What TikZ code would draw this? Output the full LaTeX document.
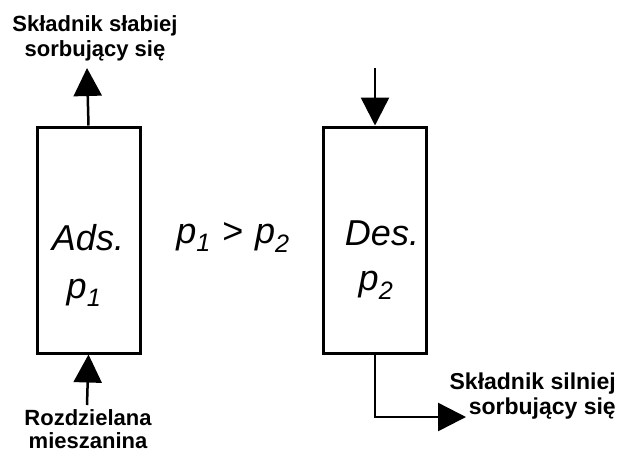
\documentclass[tikz,border=0pt]{standalone}
\usepackage{fontspec}
\setmainfont{Liberation Sans}
\usepackage{tikz}
\usetikzlibrary{arrows.meta}
\usetikzlibrary{positioning}

\newcommand{\cisn}[1]{\textit{p}\textsubscript{\textit{#1}}}

\begin{document}
\begin{tikzpicture}[x=1pt, y=-1pt,
  kolumna/.style={draw, line width=3pt, minimum width=103pt, minimum height=226pt, inner sep=0pt},
  strzalka/.style={line width=2.5pt, -{Triangle[length=28pt, width=28pt]}},
  opis/.style={font=\fontsize{22}{25}\selectfont\bfseries, align=center, inner sep=0pt},
  duzy/.style={font=\fontsize{36}{40}\selectfont\itshape, inner sep=0pt}]
  \useasboundingbox (0,0) rectangle (617,453);

  \node[kolumna] (ads) at (88.5,240) {};
  \node[kolumna] (des) at (375,240)  {};

  \node[duzy, anchor=base] (adsnazwa) at (88,250)  {Ads.};
  \node[duzy, anchor=base] (adsp)     at (84,298)  {\cisn{1}};
  \node[duzy, anchor=base] (desnazwa) at (382,245) {Des.};
  \node[duzy, anchor=base] (desp)     at (376,290) {\cisn{2}};
  \node[duzy, anchor=base] (nierown)  at (233,243) {\cisn{1}\hspace{11pt}>\hspace{12pt}\cisn{2}};

  \node[opis] (slabszy)  at (95,38)  {Składnik słabiej\\sorbujący się};
  \node[opis, font=\fontsize{22}{23}\selectfont\bfseries, anchor=north] (mieszanina) at (88,409) {Rozdzielana\\mieszanina};
  \node[opis, font=\fontsize{23}{25}\selectfont\bfseries, align=right, anchor=east] (silniejszy) at (616,396) {Składnik silniej\\sorbujący się};

  \coordinate (gora1) at (87,68);
  \coordinate (dol1)  at (87,405);
  \coordinate (gora2) at (375,68);
  \coordinate (wyjscie) at (466,417);

  \draw[strzalka] (ads.north) -- (gora1);
  \draw[strzalka] (dol1) -- (ads.south);
  \draw[strzalka] (gora2) -- (des.north);
  \draw[strzalka] (des.south) |- (wyjscie);

\end{tikzpicture}
\end{document}
